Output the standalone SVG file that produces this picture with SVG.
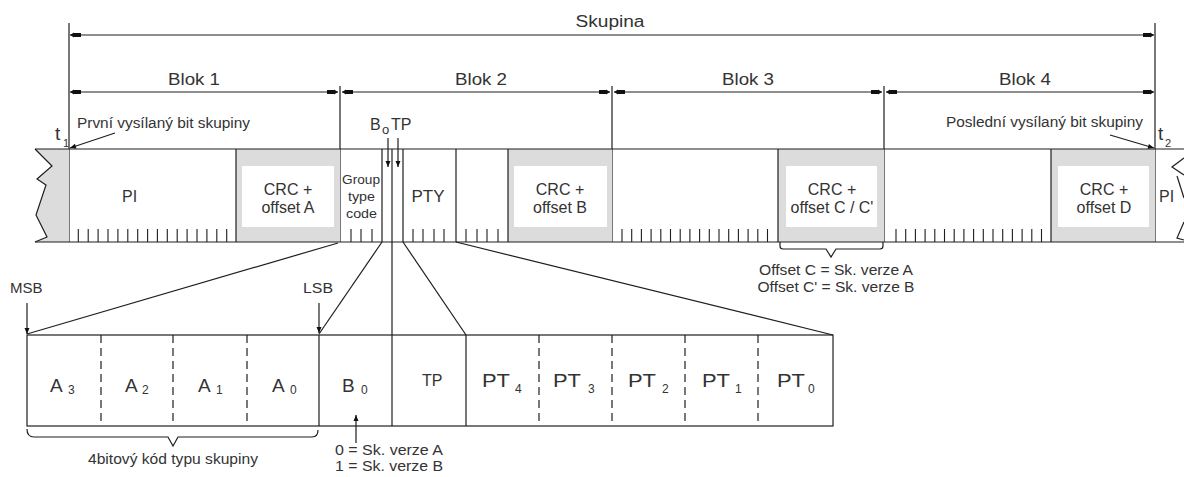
<svg xmlns="http://www.w3.org/2000/svg" width="1184" height="477" viewBox="0 0 1184 477">
<style>
 .t{font-family:"Liberation Sans",Arial,sans-serif;fill:#333}
 .ln{stroke:#1e1e1e;stroke-width:1.2;fill:none}
 .gr{fill:#dcdcdc}
 .wb{fill:#fff}
 .dash{stroke:#1e1e1e;stroke-width:1.2;stroke-dasharray:8 5;fill:none}
 .tick{stroke:#1e1e1e;stroke-width:1.1;fill:none}
</style>
<defs>
 <marker id="dim" viewBox="-12 -3 12 6" refX="0" refY="0" markerWidth="12" markerHeight="6" markerUnits="userSpaceOnUse" orient="auto-start-reverse"><path d="M0,0 L-4,-2.6 L-4,-2 L-11,-2 L-11,2 L-4,2 L-4,2.6 Z" fill="#111"/></marker>
 <marker id="ptr" viewBox="-7 -3 7 6" refX="0" refY="0" markerWidth="7" markerHeight="6" markerUnits="userSpaceOnUse" orient="auto"><path d="M0,0 L-6,-2.5 L-6,2.5 Z" fill="#111"/></marker>
</defs>
<rect width="1184" height="477" fill="#fff"/>

<g id="dimensions">
 <line class="ln" x1="69" y1="23" x2="69" y2="242"/>
 <line class="ln" x1="1155" y1="23" x2="1155" y2="242"/>
 <line class="ln" x1="340" y1="86" x2="340" y2="242"/>
 <line class="ln" x1="612" y1="86" x2="612" y2="242"/>
 <line class="ln" x1="884" y1="86" x2="884" y2="242"/>
 <line class="ln" x1="70" y1="35" x2="1154" y2="35" marker-start="url(#dim)" marker-end="url(#dim)"/>
 <line class="ln" x1="70" y1="92" x2="338" y2="92" marker-start="url(#dim)" marker-end="url(#dim)"/>
 <line class="ln" x1="342" y1="92" x2="610" y2="92" marker-start="url(#dim)" marker-end="url(#dim)"/>
 <line class="ln" x1="614" y1="92" x2="882" y2="92" marker-start="url(#dim)" marker-end="url(#dim)"/>
 <line class="ln" x1="886" y1="92" x2="1154" y2="92" marker-start="url(#dim)" marker-end="url(#dim)"/>
 <text class="t" x="610" y="27" font-size="16" text-anchor="middle" textLength="69" lengthAdjust="spacingAndGlyphs">Skupina</text>
 <text class="t" x="194" y="85" font-size="16" text-anchor="middle" textLength="52" lengthAdjust="spacingAndGlyphs">Blok 1</text>
 <text class="t" x="481" y="85" font-size="16" text-anchor="middle" textLength="52" lengthAdjust="spacingAndGlyphs">Blok 2</text>
 <text class="t" x="748" y="85" font-size="16" text-anchor="middle" textLength="52" lengthAdjust="spacingAndGlyphs">Blok 3</text>
 <text class="t" x="1025" y="85" font-size="16" text-anchor="middle" textLength="52" lengthAdjust="spacingAndGlyphs">Blok 4</text>
</g>

<g id="labels-top">
 <text class="t" x="77" y="128" font-size="14" textLength="173" lengthAdjust="spacingAndGlyphs">První vysílaný bit skupiny</text>
 <text class="t" x="946" y="127" font-size="14" textLength="197" lengthAdjust="spacingAndGlyphs">Poslední vysílaný bit skupiny</text>
 <text class="t" x="55" y="140" font-size="19">t</text>
 <text class="t" x="63" y="147" font-size="11">1</text>
 <text class="t" x="1158" y="140" font-size="19">t</text>
 <text class="t" x="1165" y="147" font-size="11">2</text>
 <text class="t" x="370" y="130" font-size="16">B</text>
 <text class="t" x="382" y="134" font-size="13">o</text>
 <text class="t" x="391" y="130" font-size="16">TP</text>
</g>

<g id="prev-group">
 <polygon class="gr" points="35,149 52,166 37,179 46,185 36,215 47,237 35,242 69,242 69,149"/>
 <polyline class="ln" points="35,149 52,166 37,179 46,185 36,215 47,237 35,242"/>
</g>

<g id="blok1">
 <rect class="gr" x="236" y="149" width="104" height="93"/>
 <rect class="wb" x="242" y="166" width="92" height="61"/>
 <line class="ln" x1="236" y1="149" x2="236" y2="242"/>
 <path class="tick" d="M78.3,229V242M88.2,229V242M98.1,229V242M108,229V242M117.9,229V242M127.8,229V242M137.7,229V242M147.6,229V242M157.4,229V242M167.3,229V242M177.2,229V242M187.1,229V242M197,229V242M206.9,229V242M216.8,229V242M226.7,229V242"/>
 <text class="t" x="122" y="202" font-size="16">PI</text>
 <text class="t" x="288" y="195" font-size="16" text-anchor="middle">CRC +</text>
 <text class="t" x="288" y="213" font-size="16" text-anchor="middle">offset A</text>
</g>

<g id="blok2">
 <rect class="gr" x="508" y="149" width="104" height="93"/>
 <rect class="wb" x="514" y="166" width="93" height="61"/>
 <path class="ln" d="M382,149V242M403,149V242M456,149V242M508,149V242"/>
 <path class="tick" d="M351,229V242M361,229V242M372,229V242M413,229V242M423,229V242M434,229V242M444,229V242M466,229V242M477,229V242M487,229V242M498,229V242"/>
 <text class="t" x="361" y="184" font-size="12" text-anchor="middle" textLength="38" lengthAdjust="spacingAndGlyphs">Group</text>
 <text class="t" x="361.5" y="201" font-size="12" text-anchor="middle" textLength="27" lengthAdjust="spacingAndGlyphs">type</text>
 <text class="t" x="361.5" y="218" font-size="12" text-anchor="middle" textLength="31" lengthAdjust="spacingAndGlyphs">code</text>
 <text class="t" x="428" y="202" font-size="16" text-anchor="middle" textLength="33" lengthAdjust="spacingAndGlyphs">PTY</text>
 <text class="t" x="560" y="195" font-size="16" text-anchor="middle">CRC +</text>
 <text class="t" x="560" y="213" font-size="16" text-anchor="middle">offset B</text>
</g>

<g id="blok3">
 <rect class="gr" x="778" y="149" width="106" height="93"/>
 <rect class="wb" x="786" y="166" width="91" height="61"/>
 <line class="ln" x1="778" y1="149" x2="778" y2="242"/>
 <path class="tick" d="M622,229V242M631.7,229V242M641.4,229V242M651.1,229V242M660.8,229V242M670.5,229V242M680.2,229V242M689.9,229V242M699.6,229V242M709.3,229V242M719,229V242M728.7,229V242M738.4,229V242M748.1,229V242M757.8,229V242M767.5,229V242"/>
 <text class="t" x="832" y="195" font-size="16" text-anchor="middle">CRC +</text>
 <text class="t" x="832" y="213" font-size="16" text-anchor="middle">offset C / C'</text>
 <path class="ln" d="M780,242V246Q780,249 783,249H826L831,257L836,249H880Q883,249 883,246V242"/>
 <text class="t" x="836" y="275" font-size="14" text-anchor="middle" textLength="154" lengthAdjust="spacingAndGlyphs">Offset C = Sk. verze A</text>
 <text class="t" x="836" y="292" font-size="14" text-anchor="middle" textLength="157" lengthAdjust="spacingAndGlyphs">Offset C' = Sk. verze B</text>
</g>

<g id="blok4">
 <rect class="gr" x="1051" y="149" width="104" height="93"/>
 <rect class="wb" x="1058" y="166" width="91" height="61"/>
 <line class="ln" x1="1051" y1="149" x2="1051" y2="242"/>
 <path class="tick" d="M896,229V242M905.7,229V242M915.4,229V242M925.1,229V242M934.8,229V242M944.5,229V242M954.2,229V242M963.9,229V242M973.6,229V242M983.3,229V242M993,229V242M1002.7,229V242M1012.4,229V242M1022.1,229V242M1031.8,229V242M1041.5,229V242"/>
 <text class="t" x="1104" y="195" font-size="16" text-anchor="middle">CRC +</text>
 <text class="t" x="1104" y="213" font-size="16" text-anchor="middle">offset D</text>
</g>

<g id="next-group">
 <text class="t" x="1159" y="202" font-size="16">PI</text>
 <polyline class="ln" points="1184,158 1172,167 1184,175"/>
 <polyline class="ln" points="1177,176 1184,198"/>
 <polyline class="ln" points="1184,222 1177,238 1184,240"/>
</g>

<g id="bar-outline">
 <line class="ln" x1="35" y1="149" x2="1184" y2="149"/>
 <line class="ln" x1="35" y1="242" x2="1184" y2="242"/>
</g>

<g id="detail">
 <rect class="ln" x="27" y="335" width="806" height="91"/>
 <path class="dash" d="M101,335V426M173,335V426M247,335V426M539,335V426M612,335V426M685,335V426M758,335V426"/>
 <path class="ln" d="M319,335V426M466,335V426"/>
 <text class="t" x="50" y="392" font-size="19">A</text><text class="t" x="68" y="394" font-size="12">3</text>
 <text class="t" x="125" y="392" font-size="19">A</text><text class="t" x="142" y="394" font-size="12">2</text>
 <text class="t" x="198" y="392" font-size="19">A</text><text class="t" x="216" y="394" font-size="12">1</text>
 <text class="t" x="272" y="392" font-size="19">A</text><text class="t" x="290" y="394" font-size="12">0</text>
 <text class="t" x="342" y="392" font-size="19">B</text><text class="t" x="361" y="394" font-size="12">0</text>
 <text class="t" x="422" y="386" font-size="16">TP</text>
 <text class="t" x="482" y="387" font-size="19" textLength="28" lengthAdjust="spacingAndGlyphs">PT</text><text class="t" x="515" y="393" font-size="12">4</text>
 <text class="t" x="553" y="387" font-size="19" textLength="28" lengthAdjust="spacingAndGlyphs">PT</text><text class="t" x="588" y="393" font-size="12">3</text>
 <text class="t" x="628" y="387" font-size="19" textLength="28" lengthAdjust="spacingAndGlyphs">PT</text><text class="t" x="662" y="393" font-size="12">2</text>
 <text class="t" x="702" y="387" font-size="19" textLength="28" lengthAdjust="spacingAndGlyphs">PT</text><text class="t" x="735" y="393" font-size="12">1</text>
 <text class="t" x="777" y="387" font-size="19" textLength="28" lengthAdjust="spacingAndGlyphs">PT</text><text class="t" x="808" y="393" font-size="12">0</text>
 <path class="ln" d="M27,429Q27,437 34,437H168L173,446L178,437H312Q318,437 318,430"/>
 <text class="t" x="173" y="463.5" font-size="14.5" text-anchor="middle" textLength="170" lengthAdjust="spacingAndGlyphs">4bitový kód typu skupiny</text>
 <text class="t" x="335" y="455" font-size="14" textLength="108" lengthAdjust="spacingAndGlyphs">0 = Sk. verze A</text>
 <text class="t" x="335" y="471" font-size="14" textLength="108" lengthAdjust="spacingAndGlyphs">1 = Sk. verze B</text>
 <text class="t" x="10" y="293" font-size="15">MSB</text>
 <text class="t" x="303" y="293" font-size="15" textLength="30" lengthAdjust="spacingAndGlyphs">LSB</text>
</g>

<g id="connectors">
 <line class="ln" x1="338" y1="243" x2="27" y2="334"/>
 <line class="ln" x1="382" y1="242" x2="319" y2="334"/>
 <line class="ln" x1="392" y1="149" x2="392" y2="426"/>
 <line class="ln" x1="403" y1="242" x2="466" y2="335"/>
 <line class="ln" x1="456" y1="242" x2="833" y2="335"/>
 <line class="ln" x1="115" y1="133" x2="70" y2="148" marker-end="url(#ptr)"/>
 <line class="ln" x1="1110" y1="135" x2="1154" y2="148" marker-end="url(#ptr)"/>
 <line class="ln" x1="388" y1="138" x2="388" y2="167" marker-end="url(#ptr)"/>
 <line class="ln" x1="398" y1="138" x2="398" y2="167" marker-end="url(#ptr)"/>
 <line class="ln" x1="27" y1="303" x2="27" y2="334" marker-end="url(#ptr)"/>
 <line class="ln" x1="319" y1="303" x2="319" y2="333" marker-end="url(#ptr)"/>
 <line class="ln" x1="356" y1="443" x2="356" y2="415" marker-end="url(#ptr)"/>
</g>
</svg>
